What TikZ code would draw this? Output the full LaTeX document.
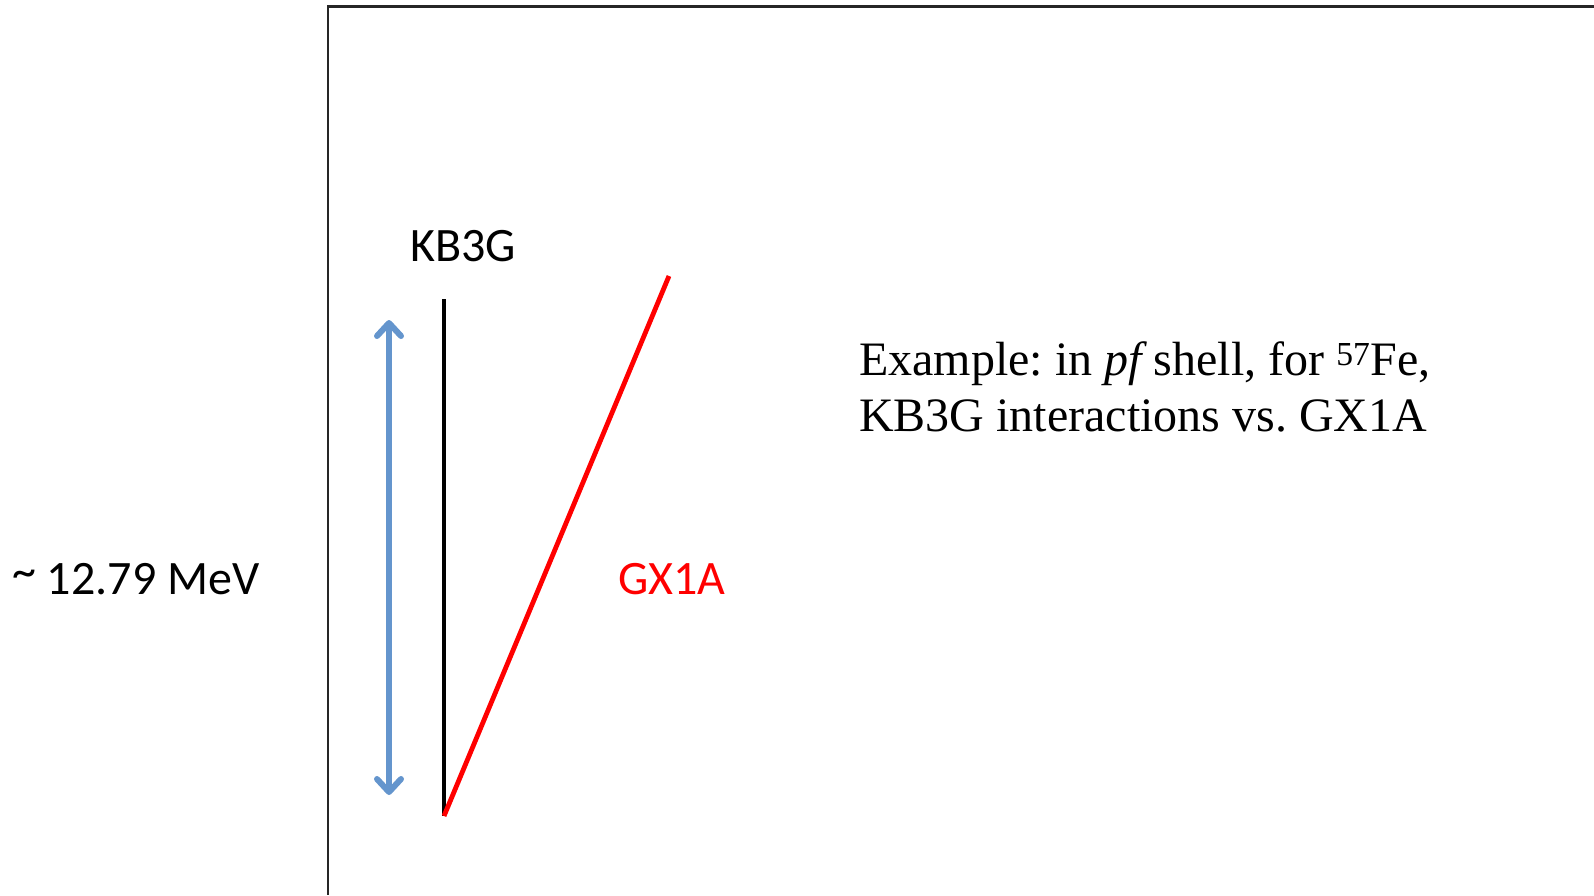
\documentclass[tikz,border=0pt]{standalone}
\usepackage{fontspec}
\setmainfont{Liberation Serif}
\newfontfamily\calib{Carlito}
\usetikzlibrary{arrows.meta}
\definecolor{arrowblue}{RGB}{100,149,205}
\definecolor{gxred}{RGB}{255,0,0}
\frenchspacing
\tikzset{
  lbl/.style={inner sep=0pt, anchor=base west, font=\calib\fontsize{48}{55}\selectfont},
  serif/.style={inner sep=0pt, anchor=base west, font=\fontsize{48}{55}\selectfont},
  framebox/.style={draw=black!85, line width=2.2pt},
  kbline/.style={draw=black, line width=4.8pt},
  gxline/.style={draw=gxred, line width=4.8pt},
  bluearrow/.style={draw=arrowblue, line width=6pt, line cap=round,
    {Straight Barb[length=13pt,width=24pt,line cap=round,line join=round]}-{Straight Barb[length=13pt,width=24pt,line cap=round,line join=round]}}
}
\begin{document}
\begin{tikzpicture}[x=1pt,y=-1pt]
\useasboundingbox (0,0) rectangle (1594,895);
% frame
\coordinate (fr) at (1594,6.5);
\coordinate (fc) at (328,6.5);
\coordinate (fb) at (328,895);
\draw[framebox] (fr) -- (fc) -- (fb);
% labels
\node[lbl] (kb) at (410,261) {KB3G};
\node[lbl] (mev) at (12,594) {\raisebox{7pt}{\textasciitilde}{} 12.79 MeV};
\node[lbl, text=gxred] (gx) at (618,594) {GX1A};
\node[serif] (ex1) at (859,375) {Example: in {\itshape pf} shell, for \textsuperscript{57}Fe,};
\node[serif] (ex2) at (859,431) {KB3G interactions vs. GX1A};
% lines
\coordinate (kbtop) at (444,299);
\coordinate (bot) at (444,816);
\coordinate (gxtop) at (669,276);
\draw[kbline] (kbtop) -- (bot);
\draw[gxline] (bot) -- (gxtop);
% arrow
\coordinate (atop) at (389,320);
\coordinate (abot) at (389,795);
\draw[bluearrow] (atop) -- (abot);
\end{tikzpicture}
\end{document}
